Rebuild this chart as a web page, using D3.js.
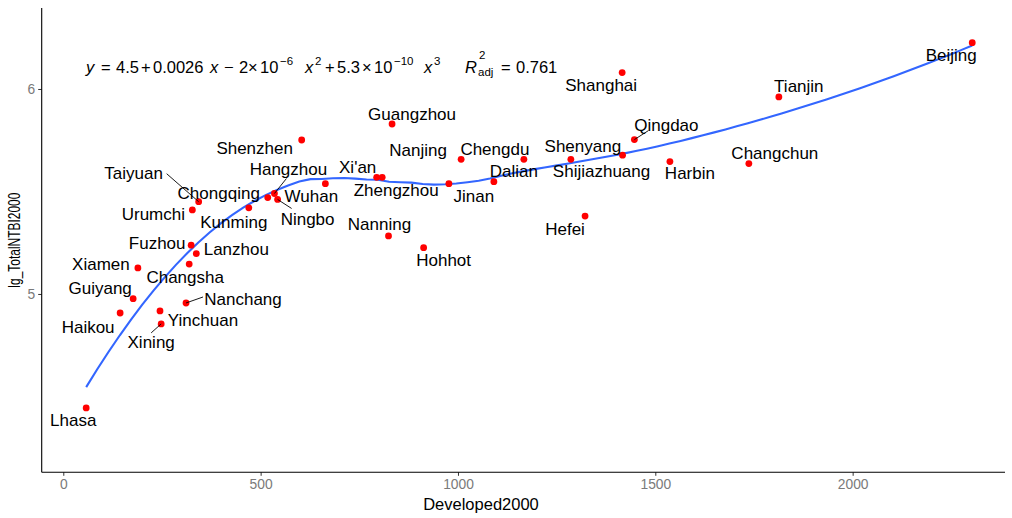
<!DOCTYPE html>
<html>
<head>
<meta charset="utf-8">
<script src="https://cdn.jsdelivr.net/npm/d3@7"></script>
<style>
  html, body { margin: 0; padding: 0; background: #ffffff; }
  svg { display: block; font-family: "Liberation Sans", Arial, Helvetica, sans-serif; }
</style>
</head>
<body>
<svg id="chart" width="1012" height="518"></svg>
<script>
// City-level observations (year 2000)
const cities = [
  "Beijing", "Shanghai", "Tianjin", "Guangzhou", "Shenzhen", "Qingdao",
  "Nanjing", "Chengdu", "Shenyang", "Shijiazhuang", "Harbin", "Changchun",
  "Xi'an", "Zhengzhou", "Jinan", "Dalian", "Wuhan", "Chongqing",
  "Hangzhou", "Ningbo", "Taiyuan", "Urumchi", "Kunming", "Fuzhou",
  "Lanzhou", "Changsha", "Xiamen", "Guiyang", "Haikou", "Yinchuan",
  "Xining", "Nanchang", "Nanning", "Hohhot", "Hefei", "Lhasa"
];
const developed2000 = [
  2303, 1416, 1813, 833, 604, 1447,
  1008, 1167, 1286, 1417, 1537, 1737,
  794, 808, 977, 1091, 664, 518,
  535, 543, 343, 327, 470, 324,
  337, 319, 189, 177, 144, 245,
  248, 311, 824, 913, 1322, 58
];
const lgTotalNTBI2000 = [
  6.226, 6.080, 5.961, 5.829, 5.751, 5.753,
  5.657, 5.657, 5.657, 5.677, 5.646, 5.636,
  5.569, 5.569, 5.538, 5.548, 5.538, 5.470,
  5.490, 5.461, 5.450, 5.410, 5.420, 5.238,
  5.197, 5.146, 5.127, 4.977, 4.907, 4.917,
  4.854, 4.956, 5.283, 5.226, 5.380, 4.444
];
const xTicks = [0, 500, 1000, 1500, 2000];
const yTicks = [5, 6];
const xTitle = "Developed2000";
const yTitle = "lg_TotalNTBI2000";

// Label placement (pixel offset of label centre from its point)
const labelOffsets = {
  "Beijing": [-21, 13], "Shanghai": [-21, 13], "Tianjin": [20, -10],
  "Guangzhou": [20, -10], "Shenzhen": [-47, 8], "Qingdao": [32, -14],
  "Nanjing": [-43, -9], "Chengdu": [-29, -10], "Shenyang": [12, -13],
  "Shijiazhuang": [-21, 16], "Harbin": [20, 12], "Changchun": [26, -10],
  "Xi'an": [-19, -10], "Zhengzhou": [14, 13], "Jinan": [25, 13],
  "Dalian": [20, -10], "Wuhan": [-14, 13], "Chongqing": [-49, -4],
  "Hangzhou": [14, -24], "Ningbo": [30, 20], "Taiyuan": [-65, -28],
  "Urumchi": [-39, 5], "Kunming": [-15, 15], "Fuzhou": [-34, -2],
  "Lanzhou": [40, -4], "Changsha": [-4, 13], "Xiamen": [-37, -3],
  "Guiyang": [-33, -10], "Haikou": [-32, 14], "Yinchuan": [43, 10],
  "Xining": [-10, 19], "Nanchang": [57, -3], "Nanning": [-9, -11],
  "Hohhot": [20, 13], "Hefei": [-20, 13], "Lhasa": [-13, 13]
};
// Connector segments for labels pushed away from their points
const leaderEnds = {
  "Qingdao": [14, -9], "Hangzhou": [12, -15], "Ningbo": [14, 9],
  "Taiyuan": [-32, -28], "Xining": [-10, 9], "Nanchang": [17, -6]
};

const svg = d3.select("#chart");
const panel = { left: 41.7, right: 1005, top: 8, bottom: 472.3 };

const x = d3.scaleLinear().domain([-54.7, 2386]).range([panel.left, panel.right]);
const y = d3.scaleLinear().domain([4.13, 6.395]).range([panel.bottom, panel.top]);

const points = cities.map((c, i) => ({ city: c, x: developed2000[i], y: lgTotalNTBI2000[i] }));

// Local quadratic regression (span 0.75, tricube weights)
function loessFit(xs, ys, span, evalAt) {
  const n = xs.length;
  const q = Math.floor(n * span);
  return evalAt.map(x0 => {
    const d = xs.map(v => Math.abs(v - x0));
    const h = d.slice().sort((a, b) => a - b)[q - 1];
    let S = [[0,0,0],[0,0,0],[0,0,0]], b = [0,0,0];
    for (let i = 0; i < n; i++) {
      const r = d[i] / h;
      if (r >= 1) continue;
      const w = Math.pow(1 - r * r * r, 3);
      const u = (xs[i] - x0) / h;
      const basis = [1, u, u * u];
      for (let a = 0; a < 3; a++) {
        b[a] += w * basis[a] * ys[i];
        for (let c = 0; c < 3; c++) S[a][c] += w * basis[a] * basis[c];
      }
    }
    // Solve 3x3 system by Gaussian elimination
    const M = S.map((row, i) => row.concat([b[i]]));
    for (let i = 0; i < 3; i++) {
      let p = i;
      for (let k = i + 1; k < 3; k++) if (Math.abs(M[k][i]) > Math.abs(M[p][i])) p = k;
      [M[i], M[p]] = [M[p], M[i]];
      for (let k = i + 1; k < 3; k++) {
        const f = M[k][i] / M[i][i];
        for (let c = i; c < 4; c++) M[k][c] -= f * M[i][c];
      }
    }
    const sol = [0, 0, 0];
    for (let i = 2; i >= 0; i--) {
      let s = M[i][3];
      for (let c = i + 1; c < 3; c++) s -= M[i][c] * sol[c];
      sol[i] = s / M[i][i];
    }
    return { x: x0, y: sol[0] };
  });
}

const xMin = d3.min(developed2000), xMax = d3.max(developed2000);
const grid = d3.range(80).map(i => xMin + (xMax - xMin) * i / 79);
const smooth = loessFit(developed2000, lgTotalNTBI2000, 0.75, grid);

// Axes
const xAxis = d3.axisBottom(x).tickValues(xTicks).tickFormat(d3.format("d")).tickSize(3.5).tickPadding(3);
const yAxis = d3.axisLeft(y).tickValues(yTicks).tickFormat(d3.format("d")).tickSize(3.5).tickPadding(3);

const gx = svg.append("g").attr("transform", `translate(0,${panel.bottom})`).call(xAxis);
const gy = svg.append("g").attr("transform", `translate(${panel.left},0)`).call(yAxis);
[gx, gy].forEach(g => {
  g.select(".domain").remove();
  g.selectAll(".tick line").attr("stroke", "#333333").attr("stroke-width", 1);
  g.selectAll(".tick text").attr("fill", "#7a7a7a")
    .style("font-size", "13.8px").style("font-family", "Liberation Sans, Arial, sans-serif");
});
svg.append("line").attr("x1", panel.left).attr("x2", panel.right)
  .attr("y1", panel.bottom).attr("y2", panel.bottom).attr("stroke", "#000").attr("stroke-width", 1.1);
svg.append("line").attr("x1", panel.left).attr("x2", panel.left)
  .attr("y1", panel.top).attr("y2", panel.bottom).attr("stroke", "#000").attr("stroke-width", 1.1);

svg.append("text").attr("x", 481).attr("y", 510).attr("text-anchor", "middle")
  .style("font-size", "16.5px").attr("fill", "#000").text(xTitle);
svg.append("text").attr("transform", `translate(20,${(panel.top + panel.bottom) / 2}) rotate(-90)`)
  .attr("text-anchor", "middle").style("font-size", "16px").attr("fill", "#000")
  .attr("textLength", 95).attr("lengthAdjust", "spacingAndGlyphs").text(yTitle);

// Fitted smooth
svg.append("path").datum(smooth)
  .attr("fill", "none").attr("stroke", "#3366FF").attr("stroke-width", 2.1)
  .attr("d", d3.line().x(d => x(d.x)).y(d => y(d.y)));

// Points
svg.append("g").selectAll("circle").data(points).join("circle")
  .attr("cx", d => x(d.x)).attr("cy", d => y(d.y)).attr("r", 3.4).attr("fill", "#ff0000");

// Leader lines and labels
svg.append("g").selectAll("line").data(points.filter(d => leaderEnds[d.city])).join("line")
  .attr("x1", d => x(d.x)).attr("y1", d => y(d.y))
  .attr("x2", d => x(d.x) + leaderEnds[d.city][0]).attr("y2", d => y(d.y) + leaderEnds[d.city][1])
  .attr("stroke", "#000").attr("stroke-width", 0.9);

svg.append("g").selectAll("text").data(points).join("text")
  .attr("x", d => x(d.x) + labelOffsets[d.city][0])
  .attr("y", d => y(d.y) + labelOffsets[d.city][1])
  .attr("text-anchor", "middle").attr("dominant-baseline", "central")
  .style("font-size", "17px").attr("fill", "#000").text(d => d.city);

// Regression equation annotation
const eqPieces = [
  ["y", 86, 73, 16.5, true], ["=", 101, 73, 16.5], ["4.5", 116, 73, 16.5], ["+", 141, 73, 16.5],
  ["0.0026", 153, 73, 16.5], ["x", 210, 73, 16.5, true], ["\u2212", 224, 73, 16.5],
  ["2", 239, 73, 16.5], ["\u00d7", 248, 73, 16.5], ["10", 260, 73, 16.5], ["\u22126", 280, 64.5, 11.5],
  ["x", 305, 73, 16.5, true], ["2", 315, 64.5, 11.5], ["+", 325, 73, 16.5],
  ["5.3", 337, 73, 16.5], ["\u00d7", 362, 73, 16.5], ["10", 374, 73, 16.5], ["\u221210", 394, 64.5, 11.5],
  ["x", 424, 73, 16.5, true], ["3", 434, 64.5, 11.5],
  ["R", 465, 73, 16.5, true], ["2", 479, 59, 11.5], ["adj", 478, 76, 11.5],
  ["=", 501, 73, 16.5], ["0.761", 516, 73, 16.5]
];
svg.append("g").selectAll("text").data(eqPieces).join("text")
  .attr("x", d => d[1]).attr("y", d => d[2])
  .style("font-size", d => d[3] + "px")
  .style("font-style", d => d[4] ? "italic" : "normal")
  .attr("fill", "#000").text(d => d[0]);
</script>
</body>
</html>
